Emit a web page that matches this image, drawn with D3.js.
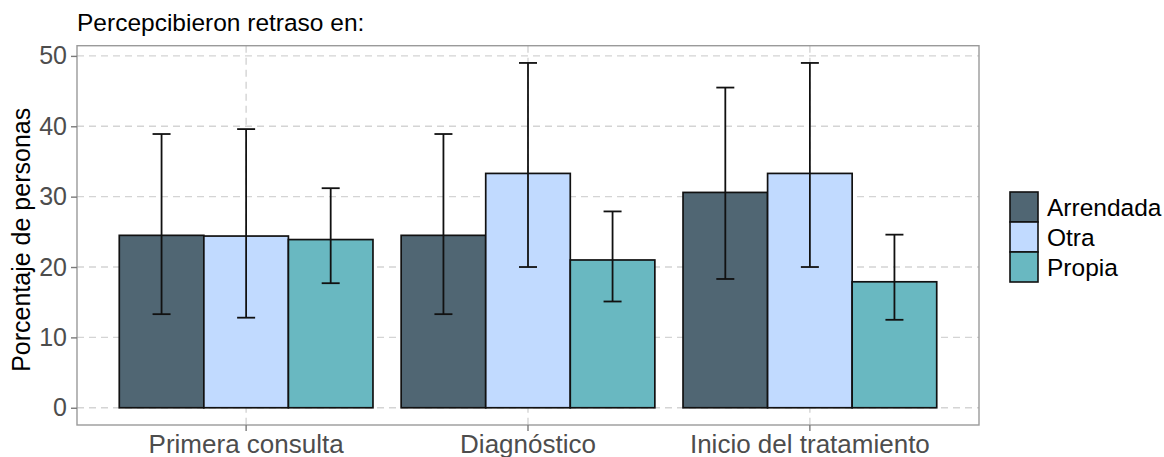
<!DOCTYPE html>
<html>
<head>
<meta charset="utf-8">
<script src="https://cdn.jsdelivr.net/npm/d3@7"></script>
<style>
  html, body { margin: 0; padding: 0; background: #fff; }
  svg { display: block; font-family: "Liberation Sans", Arial, Helvetica, sans-serif; }
</style>
</head>
<body>
<svg id="chart" width="1164" height="457"></svg>
<script>
// Categories and series
const categories = ["Primera consulta", "Diagnóstico", "Inicio del tratamiento"];
const series = ["Arrendada", "Otra", "Propia"];
const colors = ["#506673", "#c1daff", "#69b8c1"];

// Percentages per series (one value per category)
const arrendada = [24.5, 24.5, 30.6];
const otra = [24.4, 33.3, 33.3];
const propia = [23.9, 21.0, 17.9];

// Lower / upper limits of the error bars
const arrendadaLow = [13.3, 13.3, 18.3];
const arrendadaHigh = [38.9, 38.9, 45.5];
const otraLow = [12.8, 20.0, 20.0];
const otraHigh = [39.6, 49.0, 49.0];
const propiaLow = [17.7, 15.1, 12.5];
const propiaHigh = [31.2, 27.9, 24.6];

const yTicks = [0, 10, 20, 30, 40, 50];

const seriesValues = [arrendada, otra, propia];
const seriesLow = [arrendadaLow, otraLow, propiaLow];
const seriesHigh = [arrendadaHigh, otraHigh, propiaHigh];

const rows = [];
categories.forEach((c, i) => {
  series.forEach((s, j) => {
    rows.push({ cat: c, ser: s, value: seriesValues[j][i], low: seriesLow[j][i], high: seriesHigh[j][i], color: colors[j] });
  });
});

const svg = d3.select("#chart");
const margin = { left: 77, top: 45.7, right: 185, bottom: 32 };
const W = 1164, H = 457;
const x0 = margin.left, x1 = W - margin.right;
const yTop = margin.top, yBot = H - margin.bottom;

// y scale with 5% expansion on the data range
const yMax = d3.max(rows, d => d.high);
const pad = 0.05 * yMax;
const y = d3.scaleLinear().domain([-pad, yMax + pad]).range([yBot, yTop]);

// x: group bands 0.9 wide with 0.6 outer expansion
const x = d3.scaleBand().domain(categories).range([x0, x1]).paddingInner(0.1).paddingOuter(0.15);
const xs = d3.scaleBand().domain(series).range([0, x.bandwidth()]).padding(0);

const gridColor = "#d4d4d4";
const dash = "7,5";

// Horizontal grid lines
svg.append("g").selectAll("line").data(yTicks).join("line")
  .attr("x1", x0).attr("x2", x1)
  .attr("y1", d => y(d)).attr("y2", d => y(d))
  .attr("stroke", gridColor).attr("stroke-width", 1.4).attr("stroke-dasharray", dash);

// Vertical grid lines at category centres
svg.append("g").selectAll("line").data(categories).join("line")
  .attr("x1", d => x(d) + x.bandwidth() / 2).attr("x2", d => x(d) + x.bandwidth() / 2)
  .attr("y1", yTop).attr("y2", yBot)
  .attr("stroke", gridColor).attr("stroke-width", 1.4).attr("stroke-dasharray", dash);

// Bars
svg.append("g").selectAll("rect").data(rows).join("rect")
  .attr("x", d => x(d.cat) + xs(d.ser))
  .attr("y", d => y(d.value))
  .attr("width", xs.bandwidth())
  .attr("height", d => y(0) - y(d.value))
  .attr("fill", d => d.color)
  .attr("stroke", "#111").attr("stroke-width", 1.7);

// Error bars
const capW = 18;
const eb = svg.append("g").selectAll("g").data(rows).join("g")
  .attr("transform", d => `translate(${x(d.cat) + xs(d.ser) + xs.bandwidth() / 2},0)`);
eb.append("line").attr("x1", 0).attr("x2", 0)
  .attr("y1", d => y(d.low)).attr("y2", d => y(d.high))
  .attr("stroke", "#111").attr("stroke-width", 1.8);
eb.append("line").attr("x1", -capW / 2).attr("x2", capW / 2)
  .attr("y1", d => y(d.high)).attr("y2", d => y(d.high))
  .attr("stroke", "#111").attr("stroke-width", 1.8);
eb.append("line").attr("x1", -capW / 2).attr("x2", capW / 2)
  .attr("y1", d => y(d.low)).attr("y2", d => y(d.low))
  .attr("stroke", "#111").attr("stroke-width", 1.8);

// Panel border
svg.append("rect").attr("x", x0).attr("y", yTop)
  .attr("width", x1 - x0).attr("height", yBot - yTop)
  .attr("fill", "none").attr("stroke", "#9a9a9a").attr("stroke-width", 1.4);

// Axes
const yAxis = d3.axisLeft(y).tickValues(yTicks).tickSize(6).tickPadding(4);
const gy = svg.append("g").attr("transform", `translate(${x0},0)`).call(yAxis);
gy.select(".domain").remove();
gy.selectAll(".tick line").attr("stroke", "#7a7a7a").attr("stroke-width", 1.4);
gy.selectAll(".tick text").attr("fill", "#4d4d4d").style("font-size", "25px")
  .style("font-family", "'Liberation Sans', Arial, sans-serif");

const xAxis = d3.axisBottom(x).tickSize(6).tickPadding(4);
const gx = svg.append("g").attr("transform", `translate(0,${yBot})`).call(xAxis);
gx.select(".domain").remove();
gx.selectAll(".tick line").attr("stroke", "#7a7a7a").attr("stroke-width", 1.4);
gx.selectAll(".tick text").attr("fill", "#4d4d4d").style("font-size", "26px")
  .style("font-family", "'Liberation Sans', Arial, sans-serif");

// Y axis title
svg.append("text")
  .attr("transform", `translate(30,${(y(0) + y(50)) / 2 + 8}) rotate(-90)`)
  .attr("text-anchor", "middle")
  .style("font-size", "25px").attr("fill", "#000")
  .text("Porcentaje de personas");

// Title
svg.append("text").attr("x", x0).attr("y", 31)
  .style("font-size", "24.5px").attr("fill", "#000")
  .text("Percepcibieron retraso en:");

// Legend
const lg = svg.append("g").attr("transform", "translate(1010,192)");
const keyW = 28, keyH = 30;
const li = lg.selectAll("g").data(series).join("g")
  .attr("transform", (d, i) => `translate(0,${i * keyH})`);
li.append("rect").attr("width", keyW).attr("height", keyH)
  .attr("fill", (d, i) => colors[i]).attr("stroke", "#111").attr("stroke-width", 1.6);
li.append("text").attr("x", keyW + 9).attr("y", keyH / 2 + 8.5)
  .style("font-size", "24.5px").attr("fill", "#000")
  .text(d => d);
</script>
</body>
</html>
